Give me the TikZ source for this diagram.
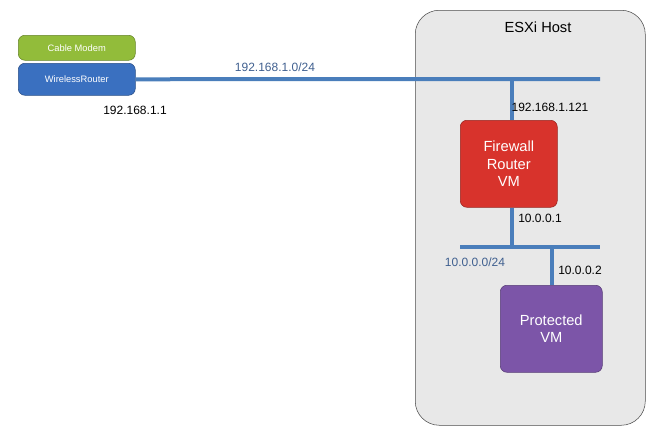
\documentclass[tikz,border=0pt]{standalone}
\usepackage{fontspec}
\setmainfont{Liberation Sans}
\begin{document}
\begin{tikzpicture}[x=0.75pt,y=-0.75pt,
  net/.style={draw=netblue,line width=3pt},
  box/.style={draw=#1!70!black,fill=#1,rounded corners=5pt,text=white,align=center,inner sep=0pt},
  lbl/.style={font=\fontsize{9}{10}\selectfont},
  nlbl/.style={font=\fontsize{9}{10}\selectfont,text=netlbl}]
\definecolor{netblue}{HTML}{4A7EBB}
\definecolor{netlbl}{HTML}{3F5F8F}
\definecolor{cgreen}{HTML}{92BC3A}
\definecolor{cblue}{HTML}{3A70C0}
\definecolor{cred}{HTML}{D8332C}
\definecolor{cpurple}{HTML}{7C55A8}
\useasboundingbox (0,0) rectangle (665,436);
\node[draw=black!70,fill=black!9,rounded corners=18pt,minimum width=230*0.75pt,minimum height=415*0.75pt,anchor=north west] (esxi) at (415,10) {};
\node[font=\fontsize{11}{12}\selectfont] (esxit) at (538,27) {ESXi Host};
\node[box=cgreen,minimum width=117*0.75pt,minimum height=25*0.75pt,anchor=north west,font=\fontsize{7}{8}\selectfont] (modem) at (18,35) {Cable Modem};
\node[box=cblue,minimum width=117*0.75pt,minimum height=32*0.75pt,anchor=north west,font=\fontsize{7}{8}\selectfont] (router) at (18,63) {WirelessRouter};
\node[lbl] (rip) at (135,110) {192.168.1.1};
\coordinate (n1r) at (600,79);
\draw[net] (router.east) -- (n1r);
\node[nlbl] (n1l) at (275,67) {192.168.1.0/24};
\node[box=cred,minimum width=97*0.75pt,minimum height=87*0.75pt,anchor=north west,font=\fontsize{11}{13}\selectfont] (fw) at (460,120) {Firewall\\Router\\VM};
\coordinate (fwtop) at (512,79);
\draw[net] (fwtop) -- (fw.north -| fwtop);
\node[lbl] (fwip) at (550,107) {192.168.1.121};
\coordinate (n2l) at (460,247);
\coordinate (n2r) at (600,247);
\coordinate (n2a) at (512,247);
\draw[net] (fw.south -| n2a) -- (n2a);
\draw[net] (n2l) -- (n2r);
\node[lbl] (fwip2) at (540,218) {10.0.0.1};
\node[nlbl] (n2lab) at (475,262) {10.0.0.0/24};
\node[box=cpurple,minimum width=102*0.75pt,minimum height=87*0.75pt,anchor=north west,font=\fontsize{11}{13}\selectfont] (pvm) at (500,285) {Protected\\VM};
\coordinate (n2b) at (552,247);
\draw[net] (n2b) -- (pvm.north -| n2b);
\node[lbl] (pip) at (580,270) {10.0.0.2};
\end{tikzpicture}
\end{document}
